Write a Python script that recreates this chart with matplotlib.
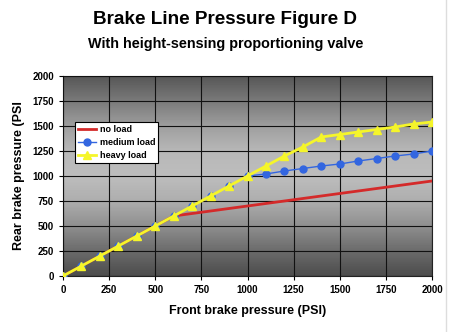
import numpy as np
import matplotlib.pyplot as plt

plt.rcParams['font.family'] = ['Liberation Sans', 'DejaVu Sans']

front = [0, 100, 200, 300, 400, 500, 600, 700, 800, 900, 1000,
         1100, 1200, 1300, 1400, 1500, 1600, 1700, 1800, 1900, 2000]
no_load = [0, 100, 200, 300, 400, 500, 600, 625, 650, 675, 700,
           725, 750, 775, 800, 825, 850, 875, 900, 925, 950]
medium_load = [0, 100, 200, 300, 400, 500, 600, 700, 800, 900, 1000,
               1020, 1050, 1075, 1100, 1120, 1150, 1175, 1200, 1220, 1250]
heavy_load = [0, 100, 200, 300, 400, 500, 600, 700, 800, 900, 1000,
              1100, 1200, 1290, 1390, 1415, 1440, 1465, 1490, 1520, 1540]
ticks = [0, 250, 500, 750, 1000, 1250, 1500, 1750, 2000]

fig = plt.figure(figsize=(4.53, 3.32), dpi=100)
ax = fig.add_axes([63 / 453, 56 / 332, 369 / 453, 200 / 332])

# vertical gray gradient background (dark top/bottom, light middle)
yy = np.linspace(0, 2000, 200)
shade = np.interp(yy, [0, 250, 500, 750, 1000, 1250, 1500, 1750, 2000],
                  [0.30, 0.42, 0.56, 0.68, 0.74, 0.72, 0.62, 0.48, 0.34])
ax.imshow(shade[:, None], cmap='gray', vmin=0, vmax=1, origin='lower',
          extent=[0, 2000, 0, 2000], aspect='auto', zorder=0)

ax.plot(front, no_load, color='#d42a2a', lw=2, label='no load', zorder=3)
ax.plot(front, medium_load, color='#3366e0', lw=1, marker='o', ms=5,
        label='medium load', zorder=4)
ax.plot(front, heavy_load, color='#f5f52a', lw=2, marker='^', ms=6,
        label='heavy load', zorder=5)

ax.set_xlim(0, 2000)
ax.set_ylim(0, 2000)
ax.set_xticks(ticks)
ax.set_yticks(ticks)
ax.grid(True, color='#111111', lw=0.8, zorder=1)
ax.set_axisbelow(False)
for lbl in ax.get_xticklabels() + ax.get_yticklabels():
    lbl.set_fontweight('bold')
ax.tick_params(labelsize=7, length=3, width=0.8)
for s in ax.spines.values():
    s.set_color('#222222')
    s.set_linewidth(0.8)

ax.set_xlabel('Front brake pressure (PSI)', fontsize=9, fontweight='bold', labelpad=7)
ax.set_ylabel('Rear brake pressure (PSI', fontsize=9, fontweight='bold', labelpad=5)

leg = ax.legend(loc='upper left', bbox_to_anchor=(0.032, 0.77), borderaxespad=0,
                frameon=True, fancybox=False, edgecolor='black',
                framealpha=1, borderpad=0.35, labelspacing=0.45,
                handlelength=2.0, handletextpad=0.4,
                prop={'weight': 'bold', 'size': 6.5})
leg.get_frame().set_linewidth(0.8)

fig.text(225 / 453, 1 - 20 / 332, 'Brake Line Pressure Figure D', ha='center',
         va='center', fontsize=13.6, fontweight='bold')
fig.text(226 / 453, 1 - 44 / 332, 'With height-sensing proportioning valve',
         ha='center', va='center', fontsize=10.4, fontweight='bold')

# light border line on the right edge
fig.add_artist(plt.Line2D([446 / 453, 446 / 453], [0, 1], color='#dddddd', lw=1))

fig.savefig('out.png', dpi=100)
